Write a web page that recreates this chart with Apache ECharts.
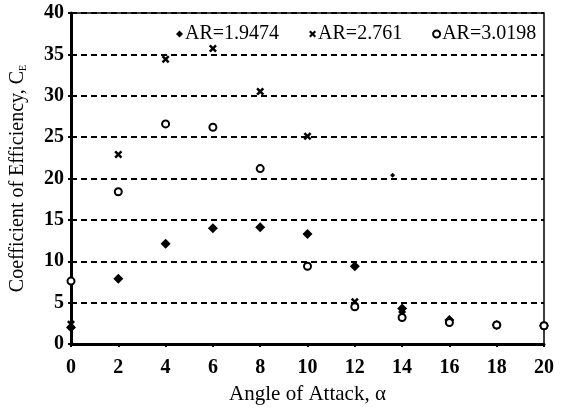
<!DOCTYPE html>
<html>
<head>
<meta charset="utf-8">
<script src="https://cdn.jsdelivr.net/npm/echarts@6/dist/echarts.min.js"></script>
<style>html,body{margin:0;padding:0;background:#fff}#c{width:564px;height:410px}</style>
</head>
<body>
<div id="c"></div>
<script>
const angles = [0, 2, 4, 6, 8, 10, 12, 14, 16, 18, 20];
const ar19474 = [2.0, 7.9, 12.1, 14.0, 14.1, 13.3, 9.4, 4.3, 2.9, 2.3, 2.2];
const ar19474Extra = [[13.6, 20.4]];
const ar2761 = [2.4, 22.9, 34.4, 35.7, 30.5, 25.1, 5.1, 3.6, 2.7, 2.3, 2.2];
const ar30198 = [7.6, 18.4, 26.6, 26.2, 21.2, 9.4, 4.5, 3.2, 2.6, 2.3, 2.2];
const seriesNames = ['AR=1.9474', 'AR=2.761', 'AR=3.0198'];
const xTicks = { min: 0, max: 20, interval: 2 };
const yTicks = { min: 0, max: 40, interval: 5 };

const pair = (vals) => angles.map((a, i) => [a, vals[i]]);
const FONT = 'Liberation Serif';
const xPath = 'path://M0,2.2L2.2,0L5,2.8L7.8,0L10,2.2L7.2,5L10,7.8L7.8,10L5,7.2L2.2,10L0,7.8L2.8,5Z';

const chart = echarts.init(document.getElementById('c'), null, { renderer: 'canvas' });
chart.setOption({
  animation: false,
  backgroundColor: '#fff',
  grid: { left: 70, right: 20, top: 13, bottom: 64, show: true, borderColor: '#000', borderWidth: 1.5, backgroundColor: 'transparent' },
  legend: {
    left: 171, top: 19, itemWidth: 7, itemHeight: 7, itemGap: 30,
    textStyle: { fontFamily: FONT, fontSize: 20, color: '#000', padding: [0, 0, 0, -3] },
    data: [
      { name: seriesNames[0], icon: 'diamond' },
      { name: seriesNames[1], icon: xPath },
      { name: seriesNames[2], icon: 'emptyCircle', itemStyle: { borderWidth: 1.5 } }
    ]
  },
  xAxis: {
    type: 'value', min: xTicks.min, max: xTicks.max, interval: xTicks.interval,
    name: 'Angle of Attack, α', nameLocation: 'middle', nameGap: 40,
    nameTextStyle: { fontFamily: FONT, fontSize: 21, color: '#000' },
    axisLine: { show: true, lineStyle: { color: '#000', width: 3 } },
    axisTick: { show: true, inside: false, length: 3, lineStyle: { color: '#000', width: 2 } },
    axisLabel: { fontFamily: FONT, fontSize: 20, fontWeight: 'bold', color: '#000', margin: 14 },
    splitLine: { show: false }
  },
  yAxis: {
    type: 'value', min: yTicks.min, max: yTicks.max, interval: yTicks.interval,
    name: '{a|Coefficient of Efficiency, C}{s|E}', nameLocation: 'middle', nameGap: 43,
    nameTextStyle: {
      fontFamily: FONT, fontSize: 20, color: '#000',
      rich: {
        a: { fontFamily: FONT, fontSize: 20, color: '#000' },
        s: { fontFamily: FONT, fontSize: 10, color: '#000', verticalAlign: 'bottom', padding: [9, 0, 0, 0] }
      }
    },
    axisLine: { show: true, lineStyle: { color: '#000', width: 3 } },
    axisTick: { show: true, inside: false, length: 3, lineStyle: { color: '#000', width: 2 } },
    axisLabel: { fontFamily: FONT, fontSize: 20, fontWeight: 'bold', color: '#000', margin: 7 },
    splitLine: { show: true, lineStyle: { color: '#000', width: 2, type: [6, 4] } }
  },
  series: [
    {
      name: seriesNames[0], type: 'scatter', symbol: 'diamond', symbolSize: 10,
      itemStyle: { color: '#000', opacity: 1 },
      data: pair(ar19474).concat(ar19474Extra.map(p => ({ value: p, symbolSize: 5 })))
    },
    {
      name: seriesNames[1], type: 'scatter', symbol: xPath, symbolSize: 8,
      itemStyle: { color: '#000', opacity: 1 },
      data: pair(ar2761)
    },
    {
      name: seriesNames[2], type: 'scatter', symbol: 'emptyCircle', symbolSize: 7,
      itemStyle: { color: '#000', borderColor: '#000', borderWidth: 2, opacity: 1 },
      data: pair(ar30198)
    }
  ]
});
</script>
</body>
</html>
